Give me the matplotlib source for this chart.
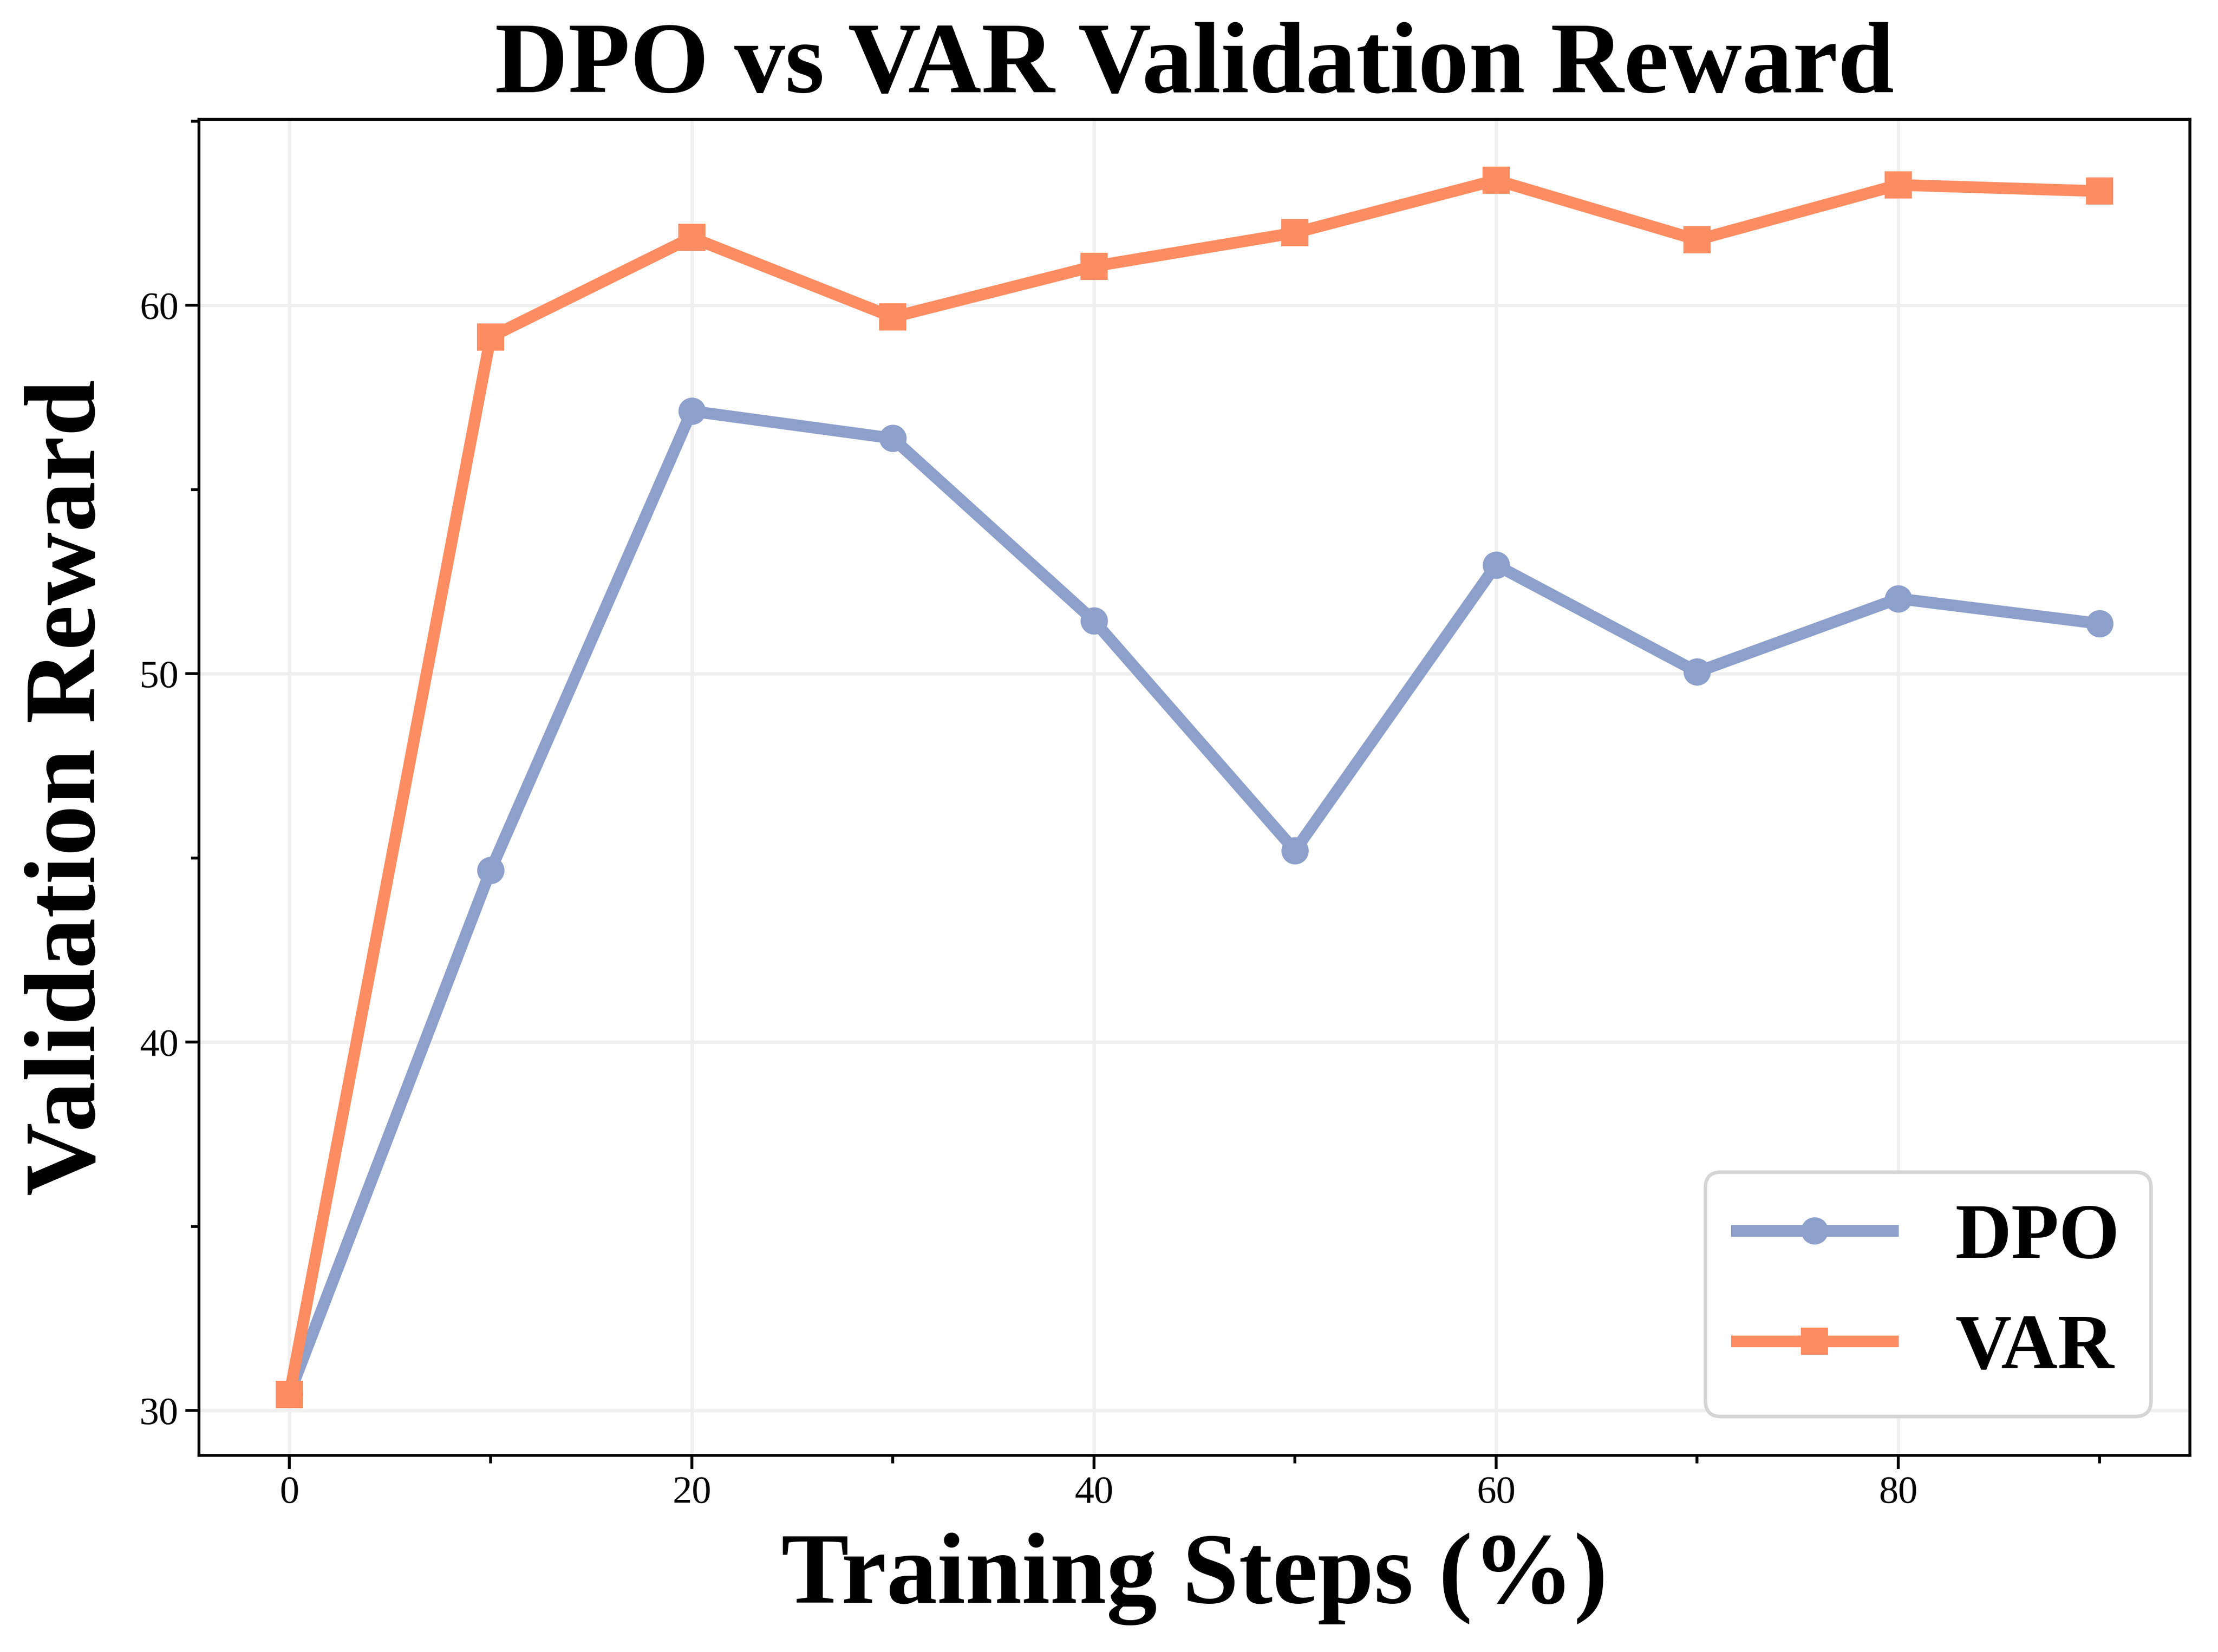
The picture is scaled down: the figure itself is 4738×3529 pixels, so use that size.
import matplotlib
matplotlib.use("Agg")
import matplotlib.pyplot as plt
from matplotlib.ticker import MultipleLocator

steps = [0, 10, 20, 30, 40, 50, 60, 70, 80, 90]
dpo = [30.45, 44.66, 57.13, 56.39, 51.44, 45.20, 52.95, 50.05, 52.04, 51.36]
var = [30.43, 59.14, 61.84, 59.68, 61.06, 61.97, 63.40, 61.78, 63.27, 63.10]

title = "DPO vs VAR Validation Reward"
xlabel = "Training Steps (%)"
ylabel = "Validation Reward"
names = ["DPO", "VAR"]

plt.rcParams['font.family'] = ['Liberation Serif', 'DejaVu Serif']

fig = plt.figure(figsize=(4738/300, 3529/300), dpi=300)
ax = fig.add_axes([425/4738, 1-3109/3529, (4678-425)/4738, (3109-255)/3529])

ax.plot(steps, dpo, color='#8da0cb', marker='o', lw=6, markersize=13, label=names[0], zorder=3)
ax.plot(steps, var, color='#fc8d62', marker='s', lw=6, markersize=13, label=names[1], zorder=3)

ax.xaxis.set_major_locator(MultipleLocator(20))
ax.xaxis.set_minor_locator(MultipleLocator(10))
ax.yaxis.set_major_locator(MultipleLocator(10))
ax.yaxis.set_minor_locator(MultipleLocator(5))
ax.grid(True, which='major', color='#f0f0f0', lw=1.7, zorder=0)
ax.set_axisbelow(True)

ax.tick_params(which='major', length=7, width=1.5, labelsize=20)
ax.tick_params(which='minor', length=4, width=1.5)
for s in ax.spines.values():
    s.set_linewidth(1.5)

ax.set_title(title, fontsize=52, fontweight='bold', pad=14)
ax.set_xlabel(xlabel, fontsize=52, fontweight='bold', labelpad=11)
ax.set_ylabel(ylabel, fontsize=52, fontweight='bold', labelpad=12)

leg = ax.legend(loc='lower right', prop={'weight': 'bold', 'size': 40}, frameon=True,
                fancybox=True, edgecolor='#d5d5d5', framealpha=1.0)
leg.get_frame().set_linewidth(1.8)

fig.savefig("out.png", dpi=300)
